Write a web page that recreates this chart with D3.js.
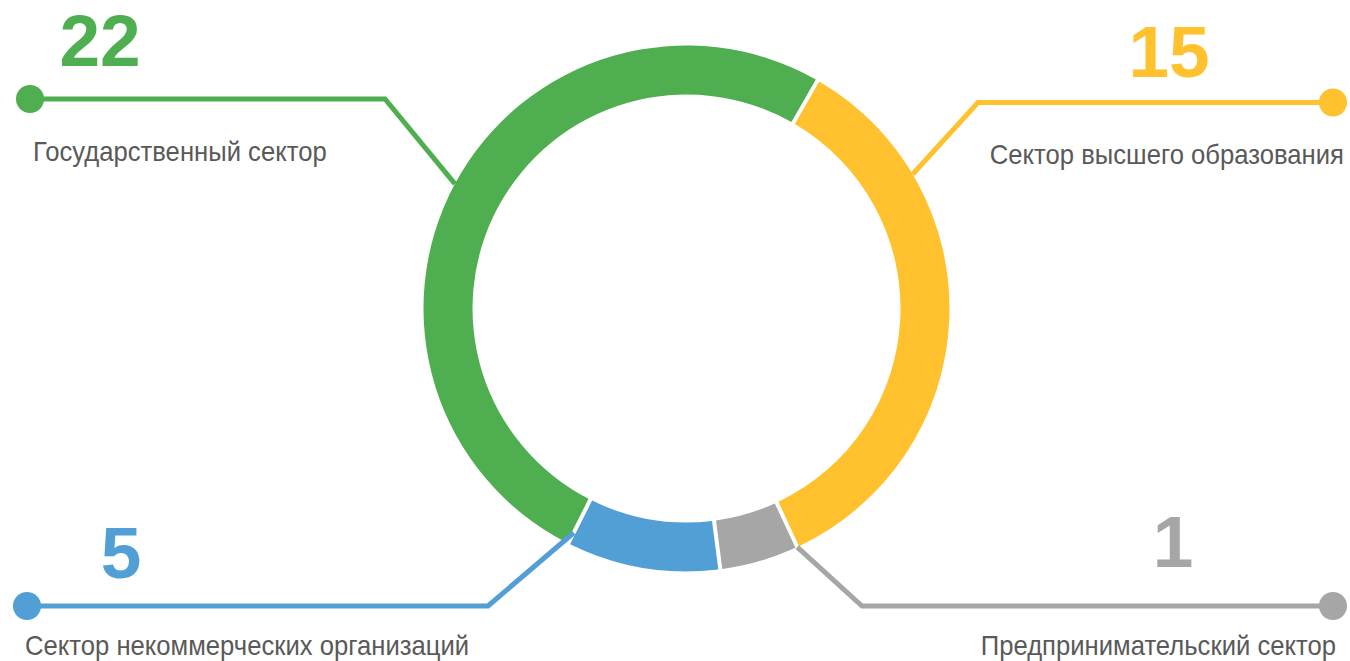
<!DOCTYPE html>
<html>
<head>
<meta charset="utf-8">
<script src="https://cdn.jsdelivr.net/npm/d3@7"></script>
<style>
  body { margin: 0; background: #fff; }
  svg { display: block; }
  .num { font-family: "Liberation Sans", Arial, sans-serif; font-weight: bold; font-size: 73px; }
  .label { font-family: "Liberation Sans", Arial, sans-serif; font-size: 27px; fill: #595959; }
</style>
</head>
<body>
<svg id="ring-chart"></svg>
<script>
// data
let sectors = [
  "Государственный сектор",
  "Сектор высшего образования",
  "Предпринимательский сектор",
  "Сектор некоммерческих организаций"
]
let counts = [22, 15, 1, 5]        // numbers printed next to each sector
let sliceSizes = [22, 15, 2, 4]    // how big the slices look on the ring
let sectorColors = ["#4FAE4F", "#FFC22E", "#A6A6A6", "#529FD6"]

let width = 1350, height = 661
let cx = 686.5, cy = 308.5
let rOuter = 263, rInner = 214

let svg = d3.select("#ring-chart")
  .attr("width", width)
  .attr("height", height)

// annotation layout (where the callouts sit, not data)
// along = where on its slice the leader line touches (0 = start, 1 = end)
let callouts = [
  { side: "left",  rowY: 99,    dotX: 30,   elbowX: 385, along: 0.5,  rEnd: rOuter,      numX: 100,  numY: 66,  labelX: 33,   labelY: 161 },
  { side: "right", rowY: 102.5, dotX: 1333, elbowX: 978, along: 0.235, rEnd: rOuter,     numX: 1169, numY: 77,  labelX: 1344, labelY: 164 },
  { side: "right", rowY: 606,   dotX: 1333, elbowX: 862, along: 0,    rEnd: rOuter,      numX: 1173, numY: 567, labelX: 1336, labelY: 655 },
  { side: "left",  rowY: 606,   dotX: 27,   elbowX: 488, along: 1,    rEnd: rOuter - 12, numX: 121,  numY: 578, labelX: 25,   labelY: 655 }
]

let startDeg = 206.7
let padR = 240
let labelSquash = 0.95

let pie = d3.pie()
  .sort(null)
  .value(d => d)
  .startAngle(startDeg * Math.PI / 180)
  .endAngle(startDeg * Math.PI / 180 + 2 * Math.PI)
  .padAngle(4 / padR)

let arcs = pie(sliceSizes)

let arc = d3.arc()
  .innerRadius(rInner)
  .outerRadius(rOuter)
  .padRadius(padR)

let ring = svg.append("g")
  .attr("transform", `translate(${cx},${cy})`)

ring.selectAll("path")
  .data(arcs)
  .join("path")
  .attr("fill", (d, i) => sectorColors[i])
  .attr("d", arc)

// leader lines
let line = d3.line()

let leaders = svg.append("g")

arcs.forEach((a, i) => {
  let c = callouts[i]
  let ang = a.startAngle + (a.endAngle - a.startAngle) * c.along
  let p = d3.pointRadial(ang, c.rEnd)
  let pts = [[c.dotX, c.rowY], [c.elbowX, c.rowY], [cx + p[0], cy + p[1]]]

  leaders.append("path")
    .attr("d", line(pts))
    .attr("fill", "none")
    .attr("stroke", sectorColors[i])
    .attr("stroke-width", 5)
    .attr("stroke-linejoin", "miter")

  leaders.append("circle")
    .attr("cx", c.dotX)
    .attr("cy", c.rowY)
    .attr("r", 14)
    .attr("fill", sectorColors[i])

  svg.append("text")
    .attr("class", "num")
    .attr("x", c.numX)
    .attr("y", c.numY)
    .attr("text-anchor", "middle")
    .attr("fill", sectorColors[i])
    .text(counts[i])

  // labels are a little narrower than the plain font
  svg.append("text")
    .attr("class", "label")
    .attr("transform", `translate(${c.labelX},${c.labelY}) scale(${labelSquash},1)`)
    .attr("text-anchor", c.side == "left" ? "start" : "end")
    .text(sectors[i])
})
</script>
</body>
</html>
